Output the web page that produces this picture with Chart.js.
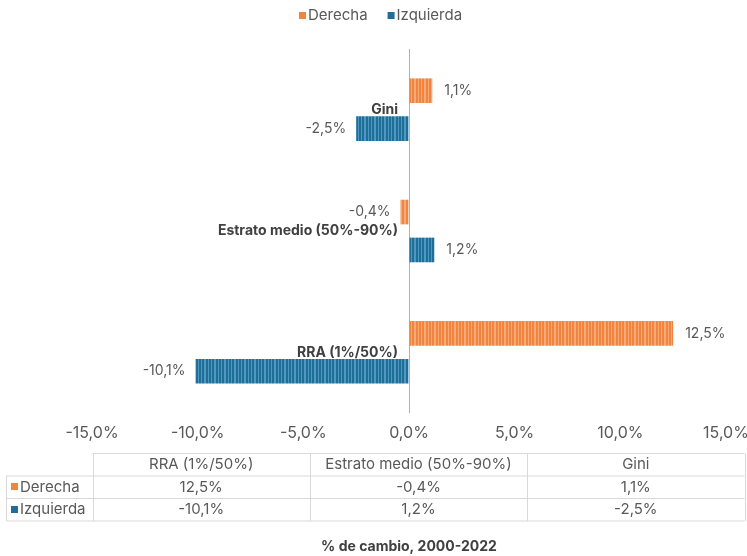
<!DOCTYPE html>
<html lang="es">
<head>
<meta charset="UTF-8">
<title>% de cambio, 2000-2022</title>
<script src="https://cdn.jsdelivr.net/npm/chart.js"></script>
<style>
  html, body { margin: 0; padding: 0; background: #fff; }
  #wrap { width: 747px; height: 556px; }
</style>
</head>
<body>
<div id="wrap"><canvas id="grafico"></canvas></div>
<script>
// datos (de arriba hacia abajo en el gráfico)
const categorias = ['Gini', 'Estrato medio (50%-90%)', 'RRA (1%/50%)'];
const derecha = [1.1, -0.4, 12.5];
const izquierda = [-2.5, 1.2, -10.1];
const ticksX = [-15, -10, -5, 0, 5, 10, 15];
const series = ['Derecha', 'Izquierda'];

const NARANJA = '#f0853f';
const AZUL = '#1f6e98';
const GRIS = '#595959';
const colores = [NARANJA, AZUL];
Chart.defaults.font.family = 'Inter';

const fmt = v => v.toFixed(1).replace('.', ',') + '%';

const canvas = document.getElementById('grafico');

// relleno con rayas verticales, como en el original
function rayas(base, claro) {
    const c = document.createElement('canvas');
    c.width = 10; c.height = 4;
    const g = c.getContext('2d');
    g.fillStyle = base;
    g.fillRect(0, 0, 10, 4);
    g.fillStyle = claro;
    [1, 4, 5, 8].forEach(x => g.fillRect(x, 0, 1, 4));
    return canvas.getContext('2d').createPattern(c, 'repeat');
}

const etiquetas = {
    id: 'etiquetas',
    afterDatasetsDraw(chart) {
        const ctx = chart.ctx;
        ctx.save();
        ctx.font = '14px Inter';
        ctx.fillStyle = GRIS;
        ctx.textBaseline = 'middle';
        chart.data.datasets.forEach((ds, i) => {
            chart.getDatasetMeta(i).data.forEach((bar, j) => {
                const v = ds.data[j];
                if (v >= 0) {
                    ctx.textAlign = 'left';
                    ctx.fillText(fmt(v), bar.x + 12, bar.y);
                } else {
                    ctx.textAlign = 'right';
                    ctx.fillText(fmt(v), bar.x - 10, bar.y);
                }
            });
        });
        // nombres de categoría junto al eje cero
        const xs = chart.scales.x, ys = chart.scales.y;
        ctx.font = 'bold 14px Inter';
        ctx.fillStyle = '#404040';
        ctx.textAlign = 'right';
        chart.data.labels.forEach((l, i) => {
            ctx.fillText(l, xs.getPixelForValue(0) - 11, ys.getPixelForValue(i));
        });
        ctx.restore();
    }
};

// leyenda arriba y tabla de datos abajo
const leyendaTabla = {
    id: 'leyendaTabla',
    afterDraw(chart) {
        const ctx = chart.ctx;
        ctx.save();

        // leyenda
        ctx.font = '15px Inter';
        ctx.textBaseline = 'middle';
        ctx.textAlign = 'left';
        const anchos = series.map(s => ctx.measureText(s).width);
        const total = anchos.reduce((a, w) => a + w + 9, 0) + 20 * (series.length - 1);
        let x = Math.round(381 - total / 2);
        series.forEach((s, i) => {
            ctx.fillStyle = colores[i];
            ctx.fillRect(x, 12, 7, 7);
            ctx.fillStyle = GRIS;
            ctx.fillText(s, x + 9, 15.5);
            x += 9 + anchos[i] + 20;
        });

        // tabla (orden del original: de abajo hacia arriba)
        const cols = categorias.slice().reverse();
        const filas = [derecha.slice().reverse(), izquierda.slice().reverse()];
        const x0 = 6.5, x1 = Math.round(chart.chartArea.left) + 0.5, x3 = chart.width - 2.5;
        const ancho = (x3 - x1) / cols.length;
        const y0 = 453.5, h = 22.5;
        ctx.strokeStyle = '#d9d9d9';
        ctx.lineWidth = 1;
        ctx.beginPath();
        ctx.moveTo(x1, y0); ctx.lineTo(x3, y0);
        for (let r = 1; r <= 3; r++) {
            ctx.moveTo(x0, y0 + r * h); ctx.lineTo(x3, y0 + r * h);
        }
        ctx.moveTo(x0, y0 + h); ctx.lineTo(x0, y0 + 3 * h);
        for (let c = 0; c <= cols.length; c++) {
            const xc = Math.round(x1 + c * ancho) + 0.5;
            ctx.moveTo(xc, y0); ctx.lineTo(xc, y0 + 3 * h);
        }
        ctx.stroke();

        ctx.font = '15px Inter';
        ctx.fillStyle = GRIS;
        ctx.textAlign = 'center';
        cols.forEach((c, i) => ctx.fillText(c, x1 + (i + 0.5) * ancho, y0 + h / 2));
        filas.forEach((fila, r) => {
            const yc = y0 + (r + 1.5) * h;
            fila.forEach((v, i) => ctx.fillText(fmt(v), x1 + (i + 0.5) * ancho, yc));
        });
        ctx.textAlign = 'left';
        series.forEach((s, r) => {
            const yc = y0 + (r + 1.5) * h;
            ctx.fillStyle = colores[r];
            ctx.fillRect(11, Math.round(yc) - 4, 7, 7);
            ctx.fillStyle = GRIS;
            ctx.fillText(s, 20, yc);
        });
        ctx.restore();
    }
};

new Chart(canvas, {
    type: 'bar',
    data: {
        labels: categorias,
        datasets: [
            {
                label: series[0],
                data: derecha,
                backgroundColor: rayas(NARANJA, '#f7aa78'),
                categoryPercentage: 0.625,
                barPercentage: 0.65
            },
            {
                label: series[1],
                data: izquierda,
                backgroundColor: rayas(AZUL, '#4f98c2'),
                categoryPercentage: 0.625,
                barPercentage: 0.65
            }
        ]
    },
    options: {
        indexAxis: 'y',
        responsive: true,
        maintainAspectRatio: false,
        animation: false,
        scales: {
            x: {
                min: ticksX[0],
                max: ticksX[ticksX.length - 1],
                afterBuildTicks: s => { s.ticks = ticksX.map(v => ({ value: v })); },
                afterFit: s => { s.paddingRight = 21; },
                ticks: {
                    padding: 2,
                    color: GRIS,
                    font: { size: 16 },
                    callback: v => fmt(v)
                },
                grid: {
                    drawTicks: true,
                    tickLength: 9,
                    tickColor: 'rgba(0,0,0,0)',
                    color: c => (c.tick && c.tick.value === 0) ? '#b0b0b0' : 'rgba(0,0,0,0)'
                },
                border: { display: false }
            },
            xArriba: {
                type: 'linear',
                position: 'top',
                grid: { display: false },
                border: { display: false },
                ticks: { display: false },
                afterFit: s => { s.height = 49; }
            },
            y: {
                grid: { display: false },
                border: { display: false },
                ticks: { display: false },
                afterFit: s => { s.width = 92; }
            }
        },
        plugins: {
            legend: { display: false },
            title: {
                display: true,
                position: 'bottom',
                fullSize: false,
                text: '% de cambio, 2000-2022',
                color: '#404040',
                font: { size: 14, weight: 'bold' },
                padding: { top: 93, bottom: 1 }
            },
            tooltip: { enabled: false }
        }
    },
    plugins: [etiquetas, leyendaTabla]
});
</script>
</body>
</html>
